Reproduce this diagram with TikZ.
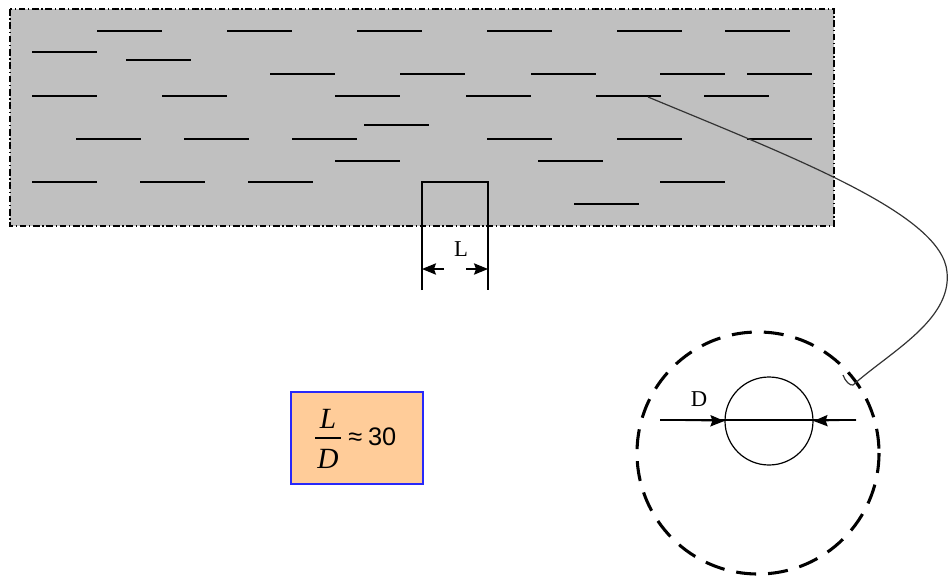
\documentclass[tikz,border=0pt]{standalone}
\usepackage{fontspec}
\setmainfont{Liberation Serif}
\newfontfamily\sansfont{Liberation Sans}
\usetikzlibrary{arrows.meta}
\definecolor{matrixgray}{RGB}{192,192,192}
\definecolor{ratiofill}{RGB}{255,204,153}
\definecolor{ratioline}{RGB}{40,40,250}
\begin{document}
\begin{tikzpicture}[x=0.75pt,y=-0.75pt,
  fiber/.style={line width=2.1pt},
  matrixedge/.style={line width=1.1pt, dash pattern=on 5pt off 2pt on 1pt off 2pt},
  dimline/.style={line width=0.9pt},
  dimtip/.style={-{Stealth[length=10.5pt,width=8.5pt,inset=1.5pt]}},
  label/.style={font=\fontsize{17}{17}\selectfont, inner sep=0pt}]
\useasboundingbox (0,0) rectangle (949,578);

% composite matrix with short fibres
\draw[matrixedge, fill=matrixgray] (10,9) rectangle (834,226);
\foreach \x/\y in {97/31, 227/31, 357/31, 487/31, 617/31, 725/31,
                   32/52, 126/60,
                   270/74, 400/74, 531/74, 660/74, 747/74,
                   32/96, 162/96, 335/96, 466/96, 596/96, 704/96,
                   364/125,
                   76/139, 184/139, 292/139, 487/139, 617/139, 747/139,
                   335/161, 538/161,
                   32/182, 140/182, 248/182, 660/182,
                   574/204}
  \draw[fiber] (\x,\y) -- ++(65,0);

% fibre length L
\coordinate (Ltop1) at (422,182);
\coordinate (Ltop2) at (488,182);
\coordinate (Lbot1) at (422,290);
\coordinate (Lbot2) at (488,290);
\draw[line width=1.3pt] (Lbot1) -- (Ltop1) -- (Ltop2) -- (Lbot2);
\coordinate (La) at (444,269);
\coordinate (Lb) at (466,269);
\draw[dimline, dimtip] (La) -- (422,269);
\draw[dimline, dimtip] (Lb) -- (488,269);
\node[label] (Llabel) at (461,249) {L};

% cross-section of one fibre
\draw[line width=2.3pt, dash pattern=on 15pt off 9pt] (758,453) circle[radius=121];
\node[draw, circle, line width=0.9pt, minimum size=66pt, inner sep=0pt] (fib) at (769,421) {};
\coordinate (Da) at (660,420);
\coordinate (Db) at (856,420);
\draw[dimline] (Da) -- (Db);
\draw[dimline, dimtip] (Da) -- (fib.west);
\draw[dimline, dimtip] (Db) -- (fib.east);
\node[label] (Dlabel) at (699,399) {D};

% leader from the fibre to its cross-section
\coordinate (lead0) at (648,97);
\coordinate (lead1) at (947,272);
\coordinate (lead2) at (853,385);
\draw[line width=0.9pt, black!80]
  (lead0) .. controls (800,160) and (942,215) .. (lead1)
  .. controls (952,320) and (890,352) .. (lead2)
  .. controls (850,386) and (845,381) .. (843,375);

% aspect ratio
\draw[draw=ratioline, fill=ratiofill, line width=1.1pt] (291,392) rectangle (423,484);
\node[font=\fontsize{22}{22}\selectfont\itshape, inner sep=0pt] (num) at (328,419) {L};
\node[font=\fontsize{22}{22}\selectfont\itshape, inner sep=0pt] (den) at (328,459) {D};
\draw[line width=0.9pt] (315,438) -- (341,438);
\node[font=\fontsize{19}{19}\selectfont\sansfont, inner sep=0pt, anchor=west] (val) at (348,437) {≈\hspace{4.5pt}30};
\end{tikzpicture}
\end{document}
